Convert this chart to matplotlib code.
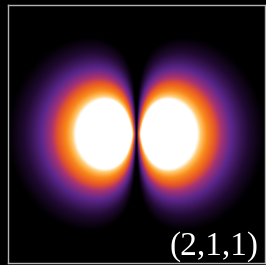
import matplotlib
matplotlib.use("Agg")
import matplotlib.pyplot as plt
import matplotlib.colors as mcolors
import numpy as np

# quantum numbers (n, l, m) and plotting window in Bohr radii
n, l, m = 2, 1, 1
half_width = 12.2
npts = 400
label = "(%d,%d,%d)" % (n, l, m)

x = np.linspace(-half_width, half_width, npts)
z = np.linspace(-half_width, half_width, npts)
X, Z = np.meshgrid(x, z)
R = np.sqrt(X**2 + Z**2)
# |psi_211|^2 in the x-z plane ~ r^2 e^{-r} sin^2(theta) = x^2 e^{-r}
dens = X**2 * np.exp(-R)

# black -> violet -> orange -> white
cmap = mcolors.LinearSegmentedColormap.from_list('halo', [
    (0.00, (0.0, 0.0, 0.0)),
    (0.15, (0.13, 0.04, 0.20)),
    (0.35, (0.36, 0.15, 0.55)),
    (0.50, (0.66, 0.20, 0.45)),
    (0.60, (0.90, 0.33, 0.16)),
    (0.75, (0.98, 0.55, 0.10)),
    (0.87, (1.00, 0.80, 0.45)),
    (0.94, (1.00, 1.00, 1.00)),
    (1.00, (1.00, 1.00, 1.00)),
])

norm = mcolors.FuncNorm((lambda v: np.abs(v)**0.25, lambda v: v**4),
                        vmin=0.0007, vmax=0.123, clip=True)

fig = plt.figure(figsize=(2.66, 2.65), dpi=100, facecolor='black')
ax = fig.add_axes([8/266, 2/265, 257/266, 258/265])
ax.imshow(dens, cmap=cmap, origin='lower', norm=norm,
          extent=[-half_width, half_width, -half_width, half_width],
          aspect='auto', interpolation='bilinear')
ax.set_xticks([])
ax.set_yticks([])
for s in ax.spines.values():
    s.set_color('#b4b4b4')
    s.set_linewidth(1.0)
ax.text(0.975, 0.03, label, transform=ax.transAxes, ha='right', va='baseline',
        color='white', fontsize=24, family='Liberation Serif')
fig.savefig('out.png', dpi=100, facecolor='black')
